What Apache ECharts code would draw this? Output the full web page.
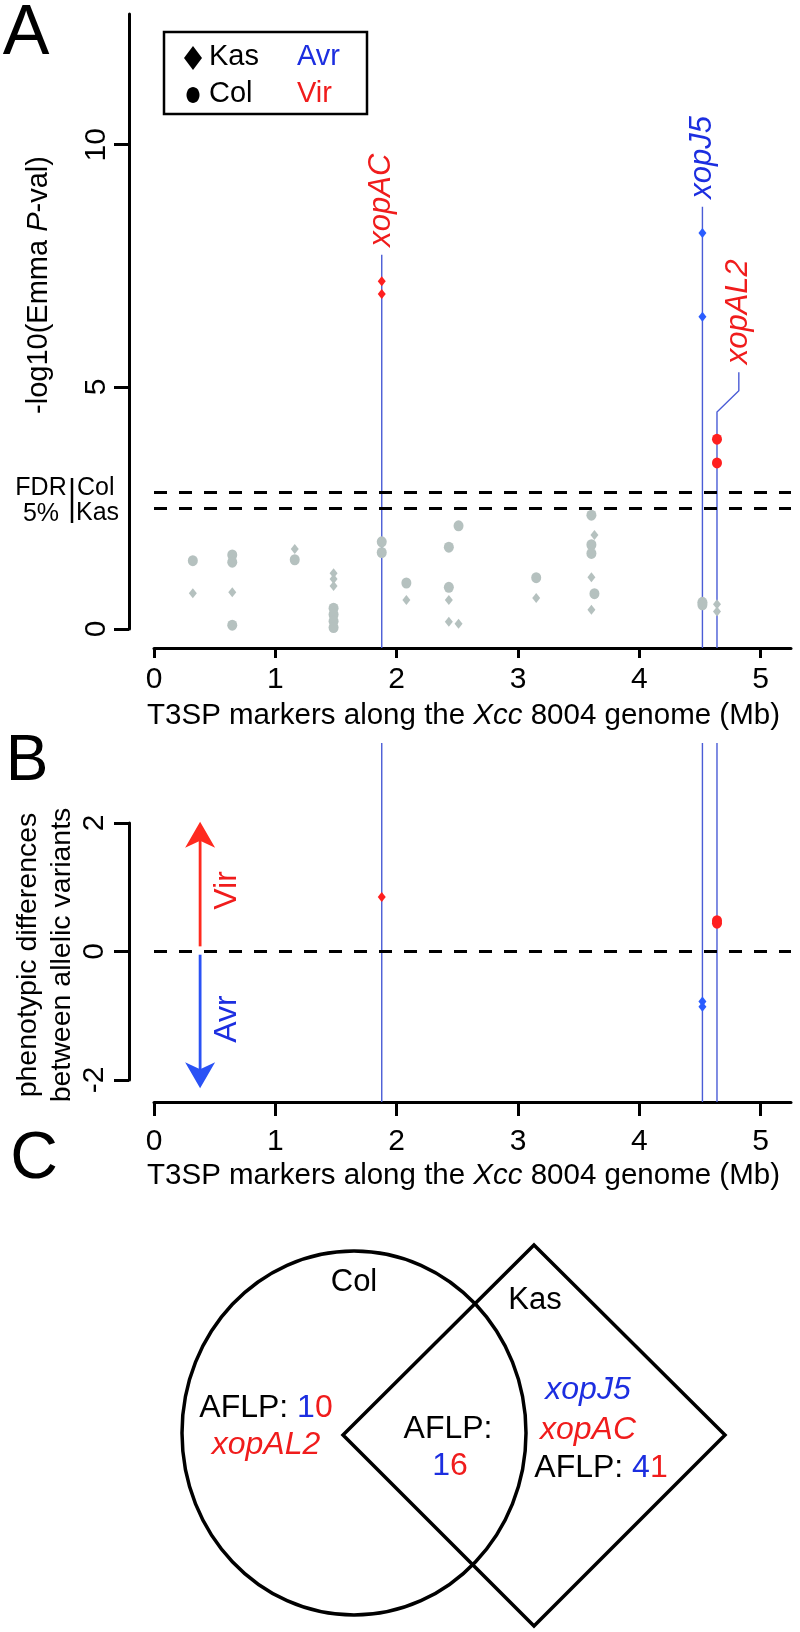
<!DOCTYPE html>
<html>
<head>
<meta charset="utf-8">
<script src="https://cdn.jsdelivr.net/npm/echarts@6/dist/echarts.min.js"></script>
<style>
  html, body { margin: 0; padding: 0; background: #fff; }
  #main { width: 800px; height: 1632px; }
</style>
</head>
<body>
<div id="main"></div>
<script>
// ---- data ----
// panel A: -log10(Emma P) per T3SP marker, x in Mb
var colGrey = [[0.32,1.41],[0.645,1.53],[0.645,1.38],[0.645,0.08],[1.16,1.43],
  [1.48,0.43],[1.48,0.30],[1.48,0.16],[1.48,0.03],[1.877,1.80],[1.877,1.58],
  [2.08,0.95],[2.43,1.69],[2.43,0.86],[2.51,2.13],[3.15,1.06],[3.605,2.35],
  [3.605,1.74],[3.605,1.56],[3.63,0.73],[4.52,0.55],[4.52,0.50]];
var kasGrey = [[0.32,0.74],[0.645,0.76],[1.16,1.65],[1.48,1.15],[1.48,1.03],
  [1.48,0.89],[2.08,0.60],[2.43,0.60],[2.43,0.15],[2.51,0.11],[3.15,0.64],
  [3.605,1.07],[3.605,0.40],[3.63,1.94],[4.64,0.51],[4.64,0.36]];
var kasVir = [[1.877,7.18],[1.877,6.92]];      // xopAC
var kasAvr = [[4.52,8.18],[4.52,6.45]];        // xopJ5
var colVir = [[4.64,3.92],[4.64,3.43]];        // xopAL2
var fdrCol = 2.83;
var fdrKas = 2.49;

// panel B: phenotypic differences between allelic variants
var diffKasVir = [[1.877,0.85]];
var diffColVir = [[4.64,0.48],[4.64,0.44]];
var diffKasAvr = [[4.52,-0.78],[4.52,-0.86]];

// genes picked out
var geneNames = ['xopAC','xopJ5','xopAL2'];
var genePos = [1.877, 4.52, 4.64];
var geneEffect = ['Vir','Avr','Vir'];
var geneStemTop = [7.73, 8.72, 4.48];
var geneElbowY = [7.73, 8.72, 4.92];
var geneLabelX = [1.877, 4.52, 4.82];
var geneLabelY = [7.73, 8.72, 5.30];

// axis ticks
var xTicks = [0,1,2,3,4,5];
var yTicksA = [0,5,10];
var yTicksB = [-2,0,2];

// panel C: Venn counts (blue = Avr digit, red = Vir digit)
var vennSets = ['Col','Kas'];
var vennAvr = [1, 1, 4];   // Col only, both, Kas only
var vennVir = [0, 6, 1];
var vennColGenes = ['xopAL2'];
var vennKasGenes = ['xopJ5','xopAC'];

var FONT = '"Liberation Sans", Arial, Helvetica, sans-serif';
var RED = '#ff1f1f', BLUE = '#2a5cff', GREY = '#b5c1bf';
var TRED = '#f01c1c', TBLUE = '#1c2ee0';
var STEM = '#4a5cd6';

var chart = echarts.init(document.getElementById('main'), null, {renderer: 'canvas'});

function xAxisOf(grid, offset, tickLen, margin, nameGap) {
  return {
    type: 'value', gridIndex: grid, min: 0, max: 5.25, interval: 1, offset: offset,
    axisLine: {show: true, onZero: false, lineStyle: {color: '#000', width: 3}},
    axisTick: {show: true, length: tickLen, customValues: xTicks, lineStyle: {color: '#000', width: 3}},
    axisLabel: {customValues: xTicks, fontSize: 30, fontFamily: FONT, color: '#000', margin: margin},
    splitLine: {show: false},
    name: '{n|T3SP markers along the }{i|Xcc}{n| 8004 genome (Mb)}',
    nameLocation: 'middle', nameGap: nameGap,
    nameTextStyle: {
      padding: [0, 18, 0, 0],
      rich: {
        n: {fontSize: 29.5, fontFamily: FONT, color: '#000'},
        i: {fontSize: 29.5, fontFamily: FONT, fontStyle: 'italic', color: '#000'}
      }
    }
  };
}

function yAxisOf(grid, min, max, interval, ticks, margin) {
  return {
    type: 'value', gridIndex: grid, min: min, max: max, interval: interval, offset: 25,
    axisLine: {show: true, onZero: false, lineStyle: {color: '#000', width: 3}},
    axisTick: {show: true, length: 15, customValues: ticks, lineStyle: {color: '#000', width: 3}},
    axisLabel: {customValues: ticks, rotate: 90, fontSize: 30, fontFamily: FONT, color: '#000', margin: margin},
    splitLine: {show: false}
  };
}

function dots(name, grid, data, symbol, size, color) {
  return {
    type: 'scatter', name: name, xAxisIndex: grid, yAxisIndex: grid, data: data,
    symbol: symbol, symbolSize: size, itemStyle: {color: color, opacity: 1},
    z: 5, silent: true
  };
}

function dashed(grid, value) {
  return {
    type: 'line', xAxisIndex: grid, yAxisIndex: grid, data: [],
    markLine: {
      silent: true, symbol: ['none','none'], label: {show: false},
      lineStyle: {color: '#000', width: 3, type: [13, 12]},
      data: [{yAxis: value}]
    }
  };
}

var option = {
  animation: false,
  backgroundColor: '#fff',
  grid: [
    {left: 154, top: 14, width: 637, height: 615},
    {left: 154, top: 823, width: 637, height: 257}
  ],
  xAxis: [xAxisOf(0, 19, 10, 17, 53), xAxisOf(1, 22, 14, 25, 59)],
  yAxis: [yAxisOf(0, 0, 12.7, 5, yTicksA, 17), yAxisOf(1, -2, 2, 2, yTicksB, 19)],
  series: [
    dashed(0, fdrCol),
    dashed(0, fdrKas),
    dashed(1, 0),
    // stems + gene labels in A
    {
      type: 'custom', xAxisIndex: 0, yAxisIndex: 0, z: 3, silent: true,
      data: genePos.map(function (x, i) { return [x, geneStemTop[i], i]; }),
      renderItem: function (params, api) {
        var i = api.value(2);
        var cs = params.coordSys;
        var pTop = api.coord([genePos[i], geneStemTop[i]]);
        var pBase = [pTop[0], cs.y + cs.height + 19];
        var pElbow = api.coord([geneLabelX[i], geneElbowY[i]]);
        var pLab = api.coord([geneLabelX[i], geneLabelY[i]]);
        return {
          type: 'group',
          children: [
            {type: 'polyline', shape: {points: [pBase, pTop, pElbow, pLab]},
             style: {stroke: STEM, lineWidth: 1.4, fill: null}},
            {type: 'text', x: pLab[0], y: pLab[1] - 8, rotation: Math.PI / 2,
             style: {text: geneNames[i], fill: geneEffect[i] == 'Vir' ? TRED : TBLUE,
                     font: 'italic 31px ' + FONT, align: 'left', verticalAlign: 'middle'}}
          ]
        };
      }
    },
    // stems in B
    {
      type: 'custom', xAxisIndex: 1, yAxisIndex: 1, z: 3, silent: true,
      data: genePos.map(function (x, i) { return [x, 0, i]; }),
      renderItem: function (params, api) {
        var cs = params.coordSys;
        var p = api.coord([api.value(0), 0]);
        return {type: 'line', shape: {x1: p[0], y1: cs.y - 80, x2: p[0], y2: cs.y + cs.height + 22},
                style: {stroke: STEM, lineWidth: 1.4}};
      }
    },
    // Vir / Avr arrows in B
    {
      type: 'custom', xAxisIndex: 1, yAxisIndex: 1, z: 4, silent: true,
      data: [[0.38, 0.08, 2.02, 0], [0.38, -0.05, -2.13, 1]],
      renderItem: function (params, api) {
        var p0 = api.coord([api.value(0), api.value(1)]);
        var p1 = api.coord([api.value(0), api.value(2)]);
        var up = api.value(3) == 0;
        var s = up ? 1 : -1;
        var col = up ? '#ff2a1f' : '#2a52f5';
        var x = p0[0], tip = p1[1];
        var lab = api.coord([0.6, up ? 0.95 : -1.05]);
        return {
          type: 'group',
          children: [
            {type: 'line', shape: {x1: x, y1: p0[1], x2: x, y2: tip + s * 18},
             style: {stroke: col, lineWidth: 2.8}},
            {type: 'polygon', shape: {points: [[x, tip], [x + 15, tip + s * 26], [x, tip + s * 19], [x - 15, tip + s * 26]]},
             style: {fill: col}},
            {type: 'text', x: lab[0], y: lab[1], rotation: Math.PI / 2,
             style: {text: up ? 'Vir' : 'Avr', fill: up ? TRED : TBLUE, font: '32px ' + FONT,
                     align: 'center', verticalAlign: 'middle'}}
          ]
        };
      }
    },
    dots('Col', 0, colGrey, 'circle', [10, 11], GREY),
    dots('Kas', 0, kasGrey, 'diamond', [8, 10], GREY),
    dots('Kas Vir', 0, kasVir, 'diamond', [8, 10], RED),
    dots('Kas Avr', 0, kasAvr, 'diamond', [8, 10], BLUE),
    dots('Col Vir', 0, colVir, 'circle', [10, 11], RED),
    dots('Kas Vir', 1, diffKasVir, 'diamond', [8, 10], RED),
    dots('Col Vir', 1, diffColVir, 'circle', [10, 11], RED),
    dots('Kas Avr', 1, diffKasAvr, 'diamond', [8, 10], BLUE)
  ],
  graphic: []
};

var g = [];
// panel letters
g.push({type: 'text', x: 26, y: 35, style: {text: 'A', font: '70px ' + FONT, fill: '#000', align: 'center', verticalAlign: 'middle'}});
g.push({type: 'text', x: 27, y: 762, style: {text: 'B', font: '64px ' + FONT, fill: '#000', align: 'center', verticalAlign: 'middle'}});
g.push({type: 'text', x: 34, y: 1160, style: {text: 'C', font: '66px ' + FONT, fill: '#000', align: 'center', verticalAlign: 'middle'}});

// y titles
g.push({type: 'text', x: 39, y: 285, rotation: Math.PI / 2,
  style: {text: '{n|-log10(Emma }{i|P}{n|-val)}', align: 'center', verticalAlign: 'middle',
          rich: {n: {fontSize: 29, fontFamily: FONT, fill: '#000'}, i: {fontSize: 29, fontFamily: FONT, fontStyle: 'italic', fill: '#000'}}}});
g.push({type: 'text', x: 45, y: 955, rotation: Math.PI / 2,
  style: {text: 'phenotypic differences\nbetween allelic variants', font: '28.5px ' + FONT, fill: '#000',
          align: 'center', verticalAlign: 'middle', lineHeight: 34}});

// FDR threshold key
g.push({type: 'text', x: 41, y: 488, style: {text: 'FDR', font: '25px ' + FONT, fill: '#000', align: 'center', verticalAlign: 'middle'}});
g.push({type: 'text', x: 41, y: 514, style: {text: '5%', font: '25px ' + FONT, fill: '#000', align: 'center', verticalAlign: 'middle'}});
g.push({type: 'line', shape: {x1: 72, y1: 478, x2: 72, y2: 523}, style: {stroke: '#000', lineWidth: 2.5}});
g.push({type: 'text', x: 77, y: 488, style: {text: vennSets[0], font: '25px ' + FONT, fill: '#000', align: 'left', verticalAlign: 'middle'}});
g.push({type: 'text', x: 76, y: 513, style: {text: vennSets[1], font: '25px ' + FONT, fill: '#000', align: 'left', verticalAlign: 'middle'}});

// legend box
g.push({type: 'rect', shape: {x: 164, y: 32, width: 203, height: 82}, style: {fill: '#fff', stroke: '#000', lineWidth: 2.5}, z: 10});
g.push({type: 'polygon', shape: {points: [[193, 46], [202, 58], [193, 70], [184, 58]]}, style: {fill: '#000'}, z: 11});
g.push({type: 'ellipse', shape: {cx: 193, cy: 95, rx: 6.5, ry: 8}, style: {fill: '#000'}, z: 11});
g.push({type: 'text', x: 209, y: 57, style: {text: 'Kas', font: '29px ' + FONT, fill: '#000', verticalAlign: 'middle'}, z: 11});
g.push({type: 'text', x: 209, y: 94, style: {text: 'Col', font: '29px ' + FONT, fill: '#000', verticalAlign: 'middle'}, z: 11});
g.push({type: 'text', x: 297, y: 57, style: {text: 'Avr', font: '29px ' + FONT, fill: TBLUE, verticalAlign: 'middle'}, z: 11});
g.push({type: 'text', x: 297, y: 94, style: {text: 'Vir', font: '29px ' + FONT, fill: TRED, verticalAlign: 'middle'}, z: 11});

// Venn diagram (panel C)
g.push({type: 'ellipse', shape: {cx: 354, cy: 1433, rx: 172, ry: 182}, style: {fill: null, stroke: '#000', lineWidth: 3.5}});
g.push({type: 'polygon', shape: {points: [[534, 1245], [725, 1435], [534, 1626], [343, 1435]]}, style: {fill: null, stroke: '#000', lineWidth: 3.5}});
g.push({type: 'text', x: 354, y: 1282, style: {text: vennSets[0], font: '31px ' + FONT, fill: '#000', align: 'center', verticalAlign: 'middle'}});
g.push({type: 'text', x: 535, y: 1300, style: {text: vennSets[1], font: '31px ' + FONT, fill: '#000', align: 'center', verticalAlign: 'middle'}});

var vrich = {
  k: {fontSize: 32, fontFamily: FONT, fill: '#000'},
  b: {fontSize: 32, fontFamily: FONT, fill: TBLUE},
  r: {fontSize: 32, fontFamily: FONT, fill: TRED},
  ir: {fontSize: 32, fontFamily: FONT, fontStyle: 'italic', fill: TRED},
  ib: {fontSize: 32, fontFamily: FONT, fontStyle: 'italic', fill: TBLUE}
};
function vtext(x, y, t) {
  return {type: 'text', x: x, y: y, style: {text: t, rich: vrich, align: 'center', verticalAlign: 'middle'}};
}
g.push(vtext(266, 1408, '{k|AFLP: }{b|' + vennAvr[0] + '}{r|' + vennVir[0] + '}'));
g.push(vtext(266, 1445, '{ir|' + vennColGenes[0] + '}'));
g.push(vtext(448, 1429, '{k|AFLP:}'));
g.push(vtext(450, 1466, '{b|' + vennAvr[1] + '}{r|' + vennVir[1] + '}'));
g.push(vtext(588, 1390, '{ib|' + vennKasGenes[0] + '}'));
g.push(vtext(588, 1430, '{ir|' + vennKasGenes[1] + '}'));
g.push(vtext(601, 1468, '{k|AFLP: }{b|' + vennAvr[2] + '}{r|' + vennVir[2] + '}'));

option.graphic = g;
chart.setOption(option);
</script>
</body>
</html>
